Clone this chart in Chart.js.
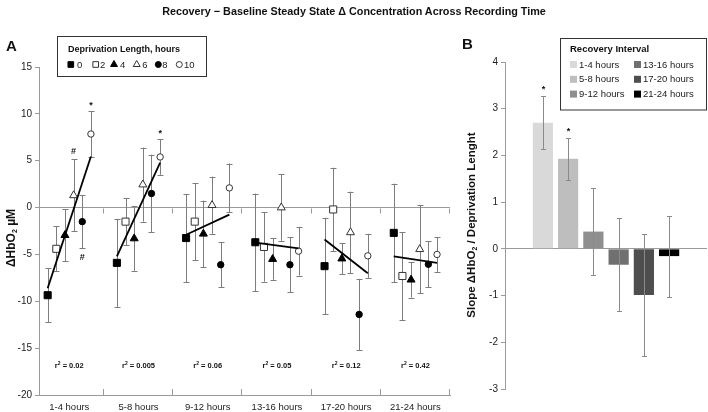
<!DOCTYPE html>
<html>
<head>
<meta charset="utf-8">
<script src="https://cdn.jsdelivr.net/npm/chart.js@4.4.0/dist/chart.umd.min.js"></script>
<style>
  body { margin: 0; background: #fff; }
  #wrap { position: relative; width: 708px; height: 412px; overflow: hidden; }
  canvas { position: absolute; top: 0; }
  .txt { position: absolute; font-family: 'Liberation Sans', Arial, sans-serif; font-weight: bold; color: #111; white-space: nowrap; }
</style>
</head>
<body>
<div id="wrap">
  <canvas id="chartA" width="460" height="412" style="left:0"></canvas>
  <canvas id="chartB" width="248" height="412" style="left:460px"></canvas>
  <div class="txt" style="left:0;top:5px;width:708px;text-align:center;font-size:10.8px;">Recovery &minus; Baseline Steady State &Delta; Concentration Across Recording Time</div>
  <div class="txt" style="left:6px;top:37px;font-size:15px;">A</div>
  <div class="txt" style="left:462px;top:35px;font-size:15px;">B</div>
</div>
<script>
// panel A: recovery interval x deprivation length
const recoveryIntervals = ['1-4 hours', '5-8 hours', '9-12 hours', '13-16 hours', '17-20 hours', '21-24 hours'];
const deprivationHours = [0, 2, 4, 6, 8, 10];
const hbo2Dep0 = [-9.35, -5.9, -3.25, -3.7, -6.25, -2.7];
const hbo2Dep2 = [-4.4, -1.5, -1.5, -4.2, -0.2, -7.3];
const hbo2Dep4 = [-2.95, -3.3, -2.8, -5.5, -5.45, -7.7];
const hbo2Dep6 = [1.3, 2.45, 0.25, 0.0, -2.65, -4.45];
const hbo2Dep8 = [-1.5, 1.5, -6.1, -6.1, -11.4, -6.05];
const hbo2Dep10 = [7.85, 5.4, 2.1, -4.65, -5.15, -5.0];
const semDep0 = [2.9, 4.7, 4.7, 5.2, 5.15, 5.25];
const semDep2 = [2.4, 2.5, 4.1, 3.7, 4.45, 4.7];
const semDep4 = [2.8, 3.45, 3.55, 2.2, 1.65, 1.9];
const semDep6 = [3.85, 3.95, 3.05, 3.55, 4.35, 4.7];
const semDep8 = [2.85, 4.15, 2.4, 2.95, 3.8, 2.45];
const semDep10 = [2.45, 1.9, 2.6, 2.6, 2.35, 1.85];
const fitAtDep0 = [-8.6, -5.2, -2.9, -3.75, -3.4, -5.2];
const fitAtDep10 = [5.45, 4.8, -0.75, -4.35, -7.0, -5.9];
const rSquared = ['0.02', '0.005', '0.06', '0.05', '0.12', '0.42'];
// [interval index, deprivation index, symbol, side]
const sigMarksA = [[0, 3, '#', 'above'], [0, 4, '#', 'below'], [0, 5, '*', 'above'], [1, 5, '*', 'above']];

// panel B: regression slope per recovery interval
const slopeValues = [2.7, 1.93, 0.37, -0.34, -0.99, -0.155];
const slopeErrors = [0.57, 0.45, 0.93, 0.99, 1.31, 0.865];
const slopeSignificant = [true, true, false, false, false, false];

const hbo2Means = [hbo2Dep0, hbo2Dep2, hbo2Dep4, hbo2Dep6, hbo2Dep8, hbo2Dep10];
const hbo2Sems = [semDep0, semDep2, semDep4, semDep6, semDep8, semDep10];

const FONT = "'Liberation Sans', Arial, sans-serif";
Chart.defaults.font.family = FONT;
Chart.defaults.color = '#222';

const markerStyles = ['rect', 'rect', 'triangle', 'triangle', 'circle', 'circle'];
const markerFilled = [true, false, true, false, true, false];
const markerRadius = { rect: 5, triangle: 4.6, circle: 3.2 };
const barColors = ['#d9d9d9', '#bebebe', '#8f8f8f', '#707070', '#4e4e4e', '#000000'];
const axisGray = '#9a9a9a';
const errGray = '#7d7d7d';

// x position: interval spans 4 units, deprivation points spread inside it
function xFor(interval, dep) {
  return interval * 4 + 2 + (dep - 5) / 4;
}

const pointSets = deprivationHours.map((dep, s) => ({
  type: 'scatter',
  label: dep + ' h',
  data: hbo2Means[s].map((v, i) => ({ x: xFor(i, dep), y: v })),
  pointStyle: markerStyles[s],
  pointRadius: markerRadius[markerStyles[s]],
  pointBackgroundColor: markerFilled[s] ? '#000' : '#fff',
  pointBorderColor: markerFilled[s] ? '#000' : '#333',
  pointBorderWidth: 1,
  order: 2
}));

const fitSets = recoveryIntervals.map((lab, i) => ({
  type: 'line',
  label: 'fit ' + lab,
  data: [{ x: xFor(i, deprivationHours[0]), y: fitAtDep0[i] },
         { x: xFor(i, deprivationHours[5]), y: fitAtDep10[i] }],
  borderColor: '#000',
  borderWidth: 1.8,
  pointRadius: 0,
  fill: false,
  order: 1
}));

function vText(ctx, parts, cx, cy) {
  // parts: [text, font, offset]; draws rotated text centred on cx, cy
  ctx.save();
  ctx.translate(cx, cy);
  ctx.rotate(-Math.PI / 2);
  let total = 0;
  parts.forEach(p => { ctx.font = p[1]; total += ctx.measureText(p[0]).width; });
  let x = -total / 2;
  ctx.textBaseline = 'middle';
  ctx.fillStyle = '#111';
  parts.forEach(p => {
    ctx.font = p[1];
    ctx.fillText(p[0], x, p[2]);
    x += ctx.measureText(p[0]).width;
  });
  ctx.restore();
}

const panelAExtras = {
  id: 'panelAExtras',
  beforeDatasetsDraw(chart) {
    const { ctx, scales: { x, y } } = chart;
    ctx.save();
    ctx.strokeStyle = errGray;
    ctx.lineWidth = 1;
    hbo2Means.forEach((means, s) => {
      means.forEach((m, i) => {
        const px = Math.round(x.getPixelForValue(xFor(i, deprivationHours[s]))) + 0.5;
        const top = y.getPixelForValue(m + hbo2Sems[s][i]);
        const bot = y.getPixelForValue(m - hbo2Sems[s][i]);
        ctx.beginPath();
        ctx.moveTo(px, top); ctx.lineTo(px, bot);
        ctx.moveTo(px - 3, Math.round(top) + 0.5); ctx.lineTo(px + 3, Math.round(top) + 0.5);
        ctx.moveTo(px - 3, Math.round(bot) + 0.5); ctx.lineTo(px + 3, Math.round(bot) + 0.5);
        ctx.stroke();
      });
    });
    // interval boundary ticks on the zero line and on the bottom axis
    ctx.strokeStyle = axisGray;
    const y0 = Math.round(y.getPixelForValue(0)) + 0.5;
    const yb = y.bottom;
    recoveryIntervals.forEach((lab, i) => {
      const px = Math.round(x.getPixelForValue(4 * (i + 1))) - 0.5;
      ctx.beginPath();
      ctx.moveTo(px, y0); ctx.lineTo(px, y0 + 5);
      ctx.moveTo(px, yb); ctx.lineTo(px, yb - 6);
      ctx.stroke();
    });
    ctx.restore();
  },
  afterDraw(chart) {
    const { ctx, scales: { x, y } } = chart;
    ctx.save();
    // r squared labels
    ctx.fillStyle = '#111';
    ctx.textBaseline = 'middle';
    rSquared.forEach((r, i) => {
      const cx = x.getPixelForValue(4 * i + 2);
      const cy = y.getPixelForValue(-16.9);
      const parts = [['r', 'bold 7.5px ' + FONT, 0], ['2', 'bold 5px ' + FONT, -2.5], [' = ' + r, 'bold 7.5px ' + FONT, 0]];
      let total = 0;
      parts.forEach(p => { ctx.font = p[1]; total += ctx.measureText(p[0]).width; });
      let px = cx - total / 2;
      parts.forEach(p => { ctx.font = p[1]; ctx.fillText(p[0], px, cy + p[2]); px += ctx.measureText(p[0]).width; });
    });
    // significance marks
    ctx.textAlign = 'center';
    sigMarksA.forEach(([i, s, sym, side]) => {
      const m = hbo2Means[s][i], e = hbo2Sems[s][i];
      const px = x.getPixelForValue(xFor(i, deprivationHours[s]));
      ctx.font = 'bold 9px ' + FONT;
      if (side === 'above') {
        ctx.fillText(sym, px, y.getPixelForValue(m + e) - (sym === '*' ? 6 : 8));
      } else {
        ctx.fillText(sym, px, y.getPixelForValue(m - e) + 9);
      }
    });
    ctx.textAlign = 'left';
    // y axis title
    vText(ctx, [['\u0394HbO', 'bold 12px ' + FONT, 0], ['2', 'bold 7px ' + FONT, 3], [' \u00b5M', 'bold 12px ' + FONT, 0]], 12, 238);
    // legend box
    ctx.strokeStyle = '#333';
    ctx.lineWidth = 1;
    ctx.strokeRect(57.5, 36.5, 149, 40);
    ctx.fillStyle = '#111';
    ctx.font = 'bold 9px ' + FONT;
    ctx.fillText('Deprivation Length, hours', 68, 49.5);
    const legX = [70.8, 95.7, 114, 136.7, 158.3, 179.3];
    const legT = [77, 100, 120, 142.3, 162.3, 184];
    const legR = { rect: 4, triangle: 4, circle: 3 };
    deprivationHours.forEach((dep, s) => {
      ctx.fillStyle = markerFilled[s] ? '#000' : '#fff';
      ctx.strokeStyle = markerFilled[s] ? '#000' : '#333';
      Chart.helpers.drawPoint(ctx, { pointStyle: markerStyles[s], radius: legR[markerStyles[s]], rotation: 0, borderWidth: 1 }, legX[s], 64.5);
      ctx.fillStyle = '#222';
      ctx.font = '9.5px ' + FONT;
      ctx.fillText(String(dep), legT[s], 65);
    });
    ctx.restore();
  }
};

new Chart(document.getElementById('chartA'), {
  type: 'scatter',
  data: { datasets: [...fitSets, ...pointSets] },
  options: {
    responsive: false,
    animation: false,
    layout: { padding: { top: 67, right: 10, left: 0, bottom: 0 } },
    plugins: { legend: { display: false }, tooltip: { enabled: false } },
    scales: {
      x: {
        type: 'linear',
        min: 0.25,
        max: 24,
        afterFit: s => { s.height = 17; },
        afterBuildTicks: s => { s.ticks = recoveryIntervals.map((_, i) => ({ value: 4 * i + 2 })); },
        ticks: {
          autoSkip: false,
          maxRotation: 0,
          padding: 7,
          font: { size: 9.5 },
          color: '#222',
          callback: v => recoveryIntervals[Math.round((v - 2) / 4)]
        },
        grid: { display: true, drawOnChartArea: false, drawTicks: false, color: axisGray },
        border: { color: axisGray }
      },
      y: {
        min: -20,
        max: 15,
        afterFit: s => { s.width = 39; },
        ticks: { stepSize: 5, padding: 3, font: { size: 10 }, color: '#222' },
        grid: {
          color: c => (c.tick && c.tick.value === 0 ? axisGray : 'rgba(0,0,0,0)'),
          tickColor: axisGray,
          tickLength: 4
        },
        border: { color: axisGray }
      }
    }
  },
  plugins: [panelAExtras]
});

const panelBExtras = {
  id: 'panelBExtras',
  afterDatasetsDraw(chart) {
    const { ctx, scales: { x, y } } = chart;
    ctx.save();
    ctx.strokeStyle = '#8a8a8a';
    ctx.lineWidth = 1;
    slopeValues.forEach((v, i) => {
      const px = Math.round(x.getPixelForValue(i + 1)) + 0.5;
      const top = Math.round(y.getPixelForValue(v + slopeErrors[i])) + 0.5;
      const bot = Math.round(y.getPixelForValue(v - slopeErrors[i])) + 0.5;
      ctx.beginPath();
      ctx.moveTo(px, top); ctx.lineTo(px, bot);
      ctx.moveTo(px - 2.5, top); ctx.lineTo(px + 2.5, top);
      ctx.moveTo(px - 2.5, bot); ctx.lineTo(px + 2.5, bot);
      ctx.stroke();
      if (slopeSignificant[i]) {
        ctx.fillStyle = '#111';
        ctx.font = 'bold 9px ' + FONT;
        ctx.textAlign = 'center';
        ctx.textBaseline = 'middle';
        ctx.fillText('*', px, top - 7);
      }
    });
    ctx.restore();
  },
  afterDraw(chart) {
    const { ctx } = chart;
    ctx.save();
    vText(ctx, [['Slope \u0394HbO', 'bold 11.5px ' + FONT, 0], ['2', 'bold 7px ' + FONT, 3], [' / Deprivation Lenght', 'bold 11.5px ' + FONT, 0]], 12, 225);
    ctx.strokeStyle = '#333';
    ctx.lineWidth = 1;
    ctx.strokeRect(100.5, 38.5, 146, 71.5);
    ctx.fillStyle = '#111';
    ctx.textBaseline = 'middle';
    ctx.font = 'bold 9.5px ' + FONT;
    ctx.fillText('Recovery Interval', 110, 49.5);
    ctx.font = '9.5px ' + FONT;
    recoveryIntervals.forEach((lab, i) => {
      const col = i < 3 ? 0 : 1;
      const row = i % 3;
      const sx = col === 0 ? 110 : 174;
      const sy = 64.5 + row * 14.8;
      ctx.fillStyle = barColors[i];
      ctx.fillRect(sx, sy - 3.5, 7, 7);
      ctx.fillStyle = '#222';
      ctx.fillText(lab, sx + 9, sy + 0.5);
    });
    ctx.restore();
  }
};

new Chart(document.getElementById('chartB'), {
  type: 'bar',
  data: {
    datasets: [{
      label: 'Slope',
      data: slopeValues.map((v, i) => ({ x: i + 1, y: v })),
      backgroundColor: barColors,
      borderWidth: 0,
      barPercentage: 0.8,
      categoryPercentage: 1
    }]
  },
  options: {
    responsive: false,
    animation: false,
    layout: { padding: { top: 62, right: 1, left: 0, bottom: 23 } },
    plugins: { legend: { display: false }, tooltip: { enabled: false } },
    scales: {
      x: { type: 'linear', min: 0, max: 7, display: false, ticks: { stepSize: 1 } },
      y: {
        min: -3,
        max: 4,
        afterFit: s => { s.width = 45; },
        ticks: { stepSize: 1, padding: 3, font: { size: 10 }, color: '#222' },
        grid: {
          color: c => (c.tick && c.tick.value === 0 ? axisGray : 'rgba(0,0,0,0)'),
          tickColor: axisGray,
          tickLength: 4
        },
        border: { color: axisGray }
      }
    }
  },
  plugins: [panelBExtras]
});
</script>
</body>
</html>
